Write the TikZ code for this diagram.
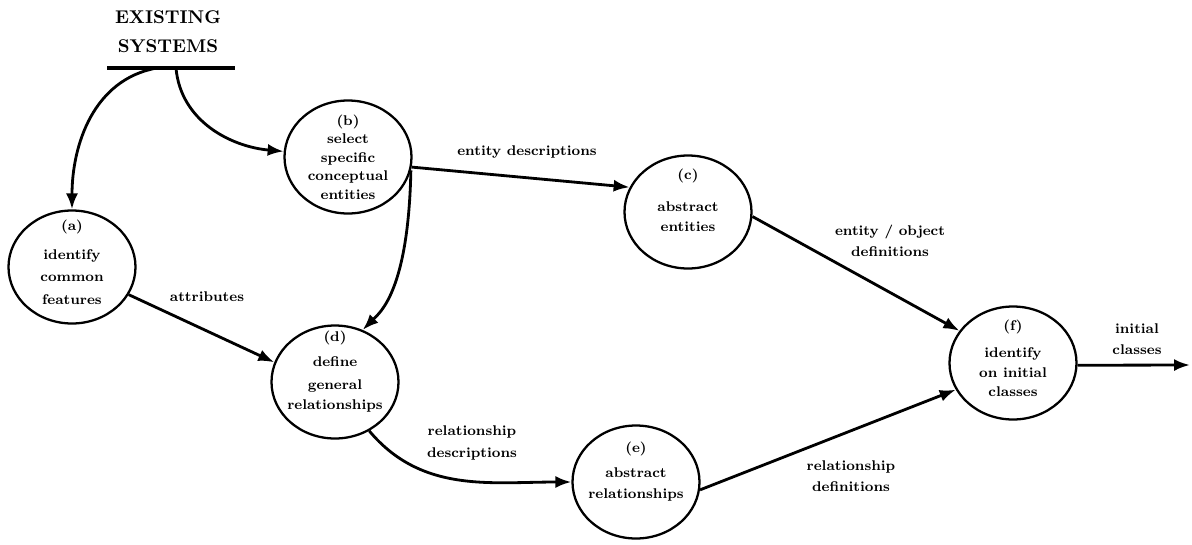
\documentclass[tikz,border=0pt]{standalone}
\usepackage{tikz}
\usetikzlibrary{shapes.geometric}
\usetikzlibrary{arrows.meta}
\tikzset{proc/.style={draw,ellipse,line width=1.3pt,minimum width=2.54cm,minimum height=2.26cm,inner sep=-0.6cm,align=center,font=\fontsize{8}{10.5}\selectfont\bfseries}}
\tikzset{flow/.style={draw,line width=1.6pt,-{Latex[length=3.2mm,width=2.4mm]}}}
\tikzset{lbl/.style={align=center,font=\fontsize{8}{12}\selectfont\bfseries}}

\begin{document}
\begin{tikzpicture}
\useasboundingbox (0,0) rectangle (23.84,-10.88);

% the store at the top
\node[align=center,font=\fontsize{10.5}{16.5}\selectfont\bfseries] (sys) at (3.36,-0.64) {EXISTING\\SYSTEMS};
\coordinate (barl) at (2.14,-1.36);
\coordinate (barr) at (4.70,-1.36);
\draw[line width=2pt] (barl) -- (barr);
\coordinate (s1) at (3.14,-1.36);
\coordinate (s2) at (3.52,-1.36);

% create the process nodes
\node[proc] (a) at (1.44,-5.34) {(a)\\[6pt]identify\\[2.5pt]common\\[2.5pt]features\\[-5pt]\mbox{}};
\node[proc] (b) at (6.96,-3.14) {(b)\\select\\specific\\conceptual\\entities};
\node[proc] (c) at (13.76,-4.24) {(c)\\[7.5pt]abstract\\[1pt]entities\\[3pt]\mbox{}};
\node[proc] (d) at (6.70,-7.64) {(d)\\[4pt]define\\[2.5pt]general\\[1pt]relationships\\[3pt]\mbox{}};
\node[proc] (e) at (12.72,-9.64) {(e)\\[3.5pt]abstract\\[1.5pt]relationships\\[3pt]\mbox{}};
\node[proc] (f) at (20.26,-7.26) {(f)\\[5pt]identify\\[1pt]on initial\\classes\\[-5pt]\mbox{}};
\coordinate (out) at (23.80,-7.30);

% flows
\path (s1) edge[flow,out=190,in=90] (a);
\path (s2) edge[flow,out=-85,in=175] (b);
\path (b.-9) edge[flow] (c.157);
\draw[flow] (b.-12) .. controls +(-0.05,-2.4) and +(0.35,0.35) .. (d.62);
\path (a.-26) edge[flow] (d.162);
\path (d.-55) edge[flow,out=-50,in=180] (e);
\path (c.-4) edge[flow] (f.149);
\path (e.-7) edge[flow] (f.-155);
\path (f.-2) edge[flow] (out);

% labels on the flows
\node[lbl] (l1) at (10.54,-3.04) {entity descriptions};
\node[lbl] (l2) at (4.14,-5.94) {attributes};
\node[lbl] (l3) at (9.44,-8.86) {relationship\\descriptions};
\node[lbl] (l4) at (17.80,-4.82) {entity / object\\definitions};
\node[lbl] (l5) at (17.02,-9.52) {relationship\\definitions};
\node[lbl] (l6) at (22.74,-6.78) {initial\\classes};

\end{tikzpicture}
\end{document}
